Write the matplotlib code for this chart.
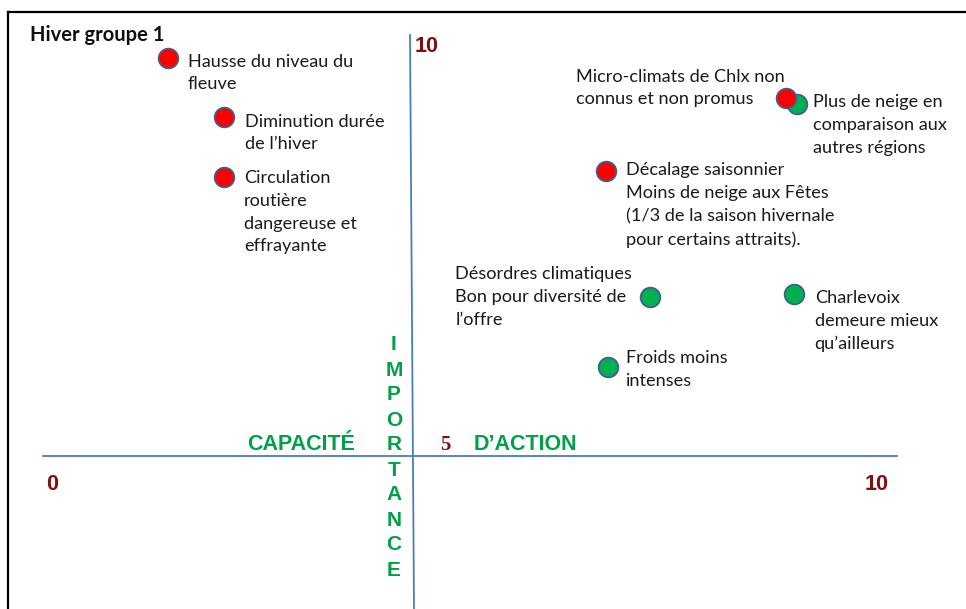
import matplotlib
matplotlib.use("Agg")
import matplotlib.pyplot as plt
from matplotlib.lines import Line2D

# ---- data (capacité d'action = x, importance = y) ----
labels = [
    "Hausse du niveau du\nfleuve",
    "Diminution durée\nde l’hiver",
    "Circulation\nroutière\ndangereuse et\neffrayante",
    "Micro-climats de Chlx non\nconnus et non promus",
    "Plus de neige en\ncomparaison aux\nautres régions",
    "Décalage saisonnier\nMoins de neige aux Fêtes\n(1/3 de la saison hivernale\npour certains attraits).",
    "Désordres climatiques\nBon pour diversité de\nl’offre",
    "Charlevoix\ndemeure mieux\nqu’ailleurs",
    "Froids moins\nintenses",
]
capacite = [1.46, 2.12, 2.12, 8.70, 8.83, 6.59, 7.11, 8.79, 6.62]
importance = [9.87, 9.15, 8.41, 9.38, 9.30, 8.48, 6.94, 6.98, 6.09]
kind = ["neg", "neg", "neg", "neg", "pos", "neg", "pos", "pos", "pos"]

title = "Hiver groupe 1"
x_label_left = "CAPACITÉ"
x_label_right = "D’ACTION"
y_label = "IMPORTANCE"
tick_min, tick_mid, tick_max = "0", "5", "10"

# ---- layout ----
W, H = 966, 609
fig = plt.figure(figsize=(W / 100, H / 100), dpi=100)
ax = fig.add_axes([0, 0, 1, 1])
ax.set_axis_off()

# pixel <-> data mapping
px_per_x = 85.4
px_per_y = 81.8
x0_px, y5_px = 43, 456
ax.set_xlim(-x0_px / px_per_x, (W - x0_px) / px_per_x)
ax.set_ylim(5 - (H - y5_px) / px_per_y, 5 + y5_px / px_per_y)

def fx(px):
    return px / W

def fy(py):
    return 1 - py / H

# frame (slide border)
fig.add_artist(Line2D([fx(8), fx(8)], [fy(12), 0], color="black", lw=1.6))
fig.add_artist(Line2D([fx(8), 1], [fy(12), fy(12)], color="black", lw=1.6))

axis_color = "#4A7EBB"
# horizontal axis (importance = 5) from capacité 0 to 10
ax.plot([0, 10], [5, 5], color=axis_color, lw=1.3, zorder=1)
# vertical axis
fig.add_artist(Line2D([fx(410), fx(414)], [fy(35), 0], color=axis_color, lw=1.3))

colors = {"neg": "#FF0000", "pos": "#00B050"}
edge = "#3F5F91"
order = [i for i in range(len(labels)) if kind[i] == "pos"] + \
        [i for i in range(len(labels)) if kind[i] == "neg"]
for i in order:
    ax.scatter(capacite[i], importance[i], s=200, color=colors[kind[i]],
               edgecolors=edge, linewidths=1.3, zorder=3)

# label offsets in pixels (dx, dy to top-left of text)
offsets = [
    (20, 4), (21, 3), (20, 7), (-210, 29),
    (16, 10), (20, 9), (-195, 31), (21, 4), (18, 17),
]
font_lab = dict(family="Lato", fontsize=13.1, color="#1A1A1A", linespacing=1.52)
for i, lab in enumerate(labels):
    dx, dy = offsets[i]
    ax.annotate(lab, (capacite[i], importance[i]), xytext=(dx, dy),
                textcoords="offset pixels", ha="left", va="top", **font_lab)

fig.text(fx(30), fy(35), title, family="Lato", fontweight="bold",
         fontsize=14.5, color="#111111", ha="left", va="center")

dark_red = "#7F1010"
green = "#00A046"
fig.text(fx(415), fy(47), tick_max, family="Liberation Sans", fontweight="bold",
         fontsize=15.5, color=dark_red, ha="left", va="center")
fig.text(fx(52), fy(484), tick_min, family="Liberation Sans", fontweight="bold",
         fontsize=15.5, color=dark_red, ha="center", va="center")
fig.text(fx(877), fy(484), tick_max, family="Liberation Sans", fontweight="bold",
         fontsize=15.5, color=dark_red, ha="center", va="center")
fig.text(fx(445), fy(445), tick_mid, family="Liberation Serif", fontweight="bold",
         fontsize=15, color=dark_red, ha="center", va="center")

fig.text(fx(355), fy(445), x_label_left, family="Liberation Sans", fontweight="bold",
         fontsize=15.5, color=green, ha="right", va="center")
fig.text(fx(474), fy(445), x_label_right, family="Liberation Sans", fontweight="bold",
         fontsize=15.5, color=green, ha="left", va="center")

for k, ch in enumerate(y_label):
    fig.text(fx(394), fy(345 + 25 * k), ch, family="Liberation Sans",
             fontweight="bold", fontsize=15, color=green, ha="center", va="center")

fig.savefig("out.png", dpi=100)
